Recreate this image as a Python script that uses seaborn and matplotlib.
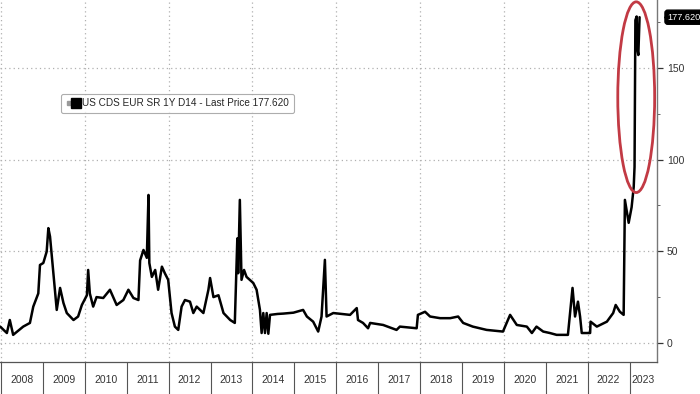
import numpy as np
import pandas as pd
import matplotlib
matplotlib.use("Agg")
import matplotlib.pyplot as plt
import seaborn as sns
from matplotlib.patches import Ellipse
from matplotlib.lines import Line2D
from matplotlib.legend_handler import HandlerTuple
import matplotlib.transforms as mtransforms

# ---- data (decimal year, CDS level) ----
years = [2007.98, 2008.14, 2008.21, 2008.29, 2008.53, 2008.69, 2008.77, 2008.89, 2008.93,
         2009.01, 2009.09, 2009.13, 2009.17, 2009.25, 2009.33, 2009.41, 2009.49, 2009.57,
         2009.73, 2009.84, 2009.93, 2010.05, 2010.08, 2010.12, 2010.20, 2010.28, 2010.44,
         2010.60, 2010.76, 2010.92, 2011.04, 2011.16, 2011.28, 2011.32, 2011.40, 2011.48,
         2011.52, 2011.54, 2011.60, 2011.68, 2011.75, 2011.84, 2011.91, 2011.99, 2012.07,
         2012.15, 2012.23, 2012.31, 2012.39, 2012.51, 2012.59, 2012.67, 2012.83, 2012.95,
         2012.99, 2013.07, 2013.19, 2013.31, 2013.47, 2013.58, 2013.64, 2013.66, 2013.70,
         2013.74, 2013.80, 2013.86, 2014.02, 2014.10, 2014.18, 2014.22, 2014.26, 2014.30,
         2014.34, 2014.38, 2014.42, 2014.60, 2014.74, 2014.98, 2015.21, 2015.30, 2015.45,
         2015.57, 2015.65, 2015.73, 2015.77, 2015.93, 2016.33, 2016.49, 2016.52, 2016.64,
         2016.76, 2016.81, 2017.12, 2017.44, 2017.52, 2017.92, 2017.95, 2018.12, 2018.24,
         2018.48, 2018.72, 2018.91, 2019.03, 2019.26, 2019.59, 2019.98, 2020.15, 2020.31,
         2020.55, 2020.67, 2020.78, 2020.94, 2021.10, 2021.26, 2021.53, 2021.58, 2021.64,
         2021.70, 2021.77, 2021.82, 2021.86, 2022.06, 2022.07, 2022.22, 2022.46, 2022.61,
         2022.67, 2022.77, 2022.86, 2022.89, 2022.94, 2022.98, 2023.05, 2023.10, 2023.12,
         2023.14, 2023.17, 2023.19, 2023.21, 2023.23, 2023.24]
values = [8.9, 5.4, 12.5, 4.4, 8.9, 10.9, 19.8, 27.0, 42.5,
          43.6, 49.8, 62.6, 58.0, 38.0, 18.0, 30.0, 21.8, 16.3,
          12.5, 14.4, 20.7, 26.0, 39.8, 27.0, 19.8, 25.0, 24.5,
          29.0, 20.7, 23.4, 29.0, 24.5, 23.4, 45.0, 50.7, 46.4,
          80.7, 43.6, 36.0, 39.8, 29.0, 41.6, 38.0, 34.4, 16.3,
          8.9, 7.1, 19.8, 23.4, 22.5, 16.3, 19.8, 16.3, 29.0,
          35.4, 25.0, 26.0, 16.3, 12.5, 10.9, 57.0, 38.0, 78.0,
          34.4, 39.8, 36.0, 32.7, 29.0, 18.0, 5.4, 16.3, 5.4,
          16.3, 5.0, 15.3, 15.8, 16.0, 16.5, 18.0, 14.4, 11.6,
          6.2, 14.4, 45.3, 14.4, 16.3, 15.3, 19.0, 12.5, 10.9,
          8.0, 10.9, 9.8, 7.1, 8.9, 8.0, 15.3, 17.0, 14.4,
          13.5, 13.5, 14.4, 10.9, 8.9, 7.1, 6.2, 15.3, 9.8,
          8.9, 5.4, 8.9, 6.2, 5.4, 4.4, 4.4, 16.3, 30.0,
          14.4, 22.5, 14.4, 5.4, 5.4, 11.6, 8.9, 11.6, 16.3,
          20.7, 17.0, 15.3, 78.0, 70.9, 65.5, 74.0, 85.0, 96.0,
          176.0, 178.0, 160.0, 157.0, 170.0, 177.62]
year_labels = [str(y) for y in range(2008, 2024)]
ytick_values = [0, 50, 100, 150]
series_name = "US CDS EUR SR 1Y D14 - Last Price 177.620"
last_price = 177.62

df = pd.DataFrame({"year": years, "value": values})

sns.set_style("white")
plt.rcParams["font.family"] = ["Liberation Sans", "DejaVu Sans"]

fig = plt.figure(figsize=(7, 3.94), dpi=100)
ax = fig.add_axes([0.0, 32 / 394, 657 / 700, 362 / 394])

sns.lineplot(data=df, x="year", y="value", ax=ax, color="black", linewidth=1.8)

x0, x1 = 2007.976, 2023.656
ax.set_xlim(x0, x1)
ax.set_ylim(-10.4, 187)

# grid
for gx in range(2008, 2023, 2):
    ax.axvline(gx, color="#b0b0b0", linestyle=(0, (1, 2.5)), linewidth=0.9, zorder=0)
for gy in ytick_values:
    ax.axhline(gy, color="#b0b0b0", linestyle=(0, (1, 2.5)), linewidth=0.9, zorder=0)

# x axis: year separators as major ticks, labels as minor ticks
ax.set_xticks(list(range(2008, 2024)))
ax.set_xticklabels([])
mids = [y + 0.5 for y in range(2008, 2023)] + [(2023 + x1) / 2]
ax.set_xticks(mids, minor=True)
ax.set_xticklabels(year_labels, minor=True, fontsize=7.5, color="#333333")
ax.tick_params(axis="x", which="major", direction="out", length=23, width=0.8, color="#555555", bottom=True)
ax.tick_params(axis="x", which="minor", length=0, pad=9.5)

# y axis right
ax.yaxis.tick_right()
ax.set_yticks(ytick_values)
ax.set_yticklabels([str(v) for v in ytick_values], fontsize=7.5, color="#333333")
ax.set_yticks([25, 75, 125, 175], minor=True)
ax.tick_params(axis="y", which="major", direction="out", length=4, width=0.9, color="#333333", right=True, left=False, pad=3)
ax.tick_params(axis="y", which="minor", direction="out", length=2, width=0.7, color="#666666", right=True, left=False)
ax.set_xlabel("")
ax.set_ylabel("")

for s in ["top", "left"]:
    ax.spines[s].set_visible(False)
ax.spines["right"].set_color("#777777")
ax.spines["right"].set_linewidth(1.0)
ax.spines["bottom"].set_color("#555555")
ax.spines["bottom"].set_linewidth(0.9)

# red ellipse
ell = Ellipse((2023.16, 134.0), width=0.88, height=104, fill=False,
              edgecolor="#c23a44", linewidth=2.0, zorder=5)
ax.add_patch(ell)

# last price tag
trans = mtransforms.blended_transform_factory(ax.transAxes, ax.transData)
ax.text(1.016, last_price, f"{last_price:.3f}", transform=trans, fontsize=6.6,
        color="white", va="center", ha="left", clip_on=False,
        bbox=dict(boxstyle="round,pad=0.28,rounding_size=0.3", fc="black", ec="black"))
ax.plot([1.0, 1.016], [last_price, last_price], transform=trans, color="black",
        linewidth=0, marker="<", markersize=6, clip_on=False, markevery=[1])

# legend
h_grey = Line2D([], [], marker="s", color="none", markerfacecolor="#999999",
                markeredgecolor="#999999", markersize=3.5)
h_black = Line2D([], [], marker="s", color="none", markerfacecolor="black",
                 markeredgecolor="black", markersize=7)
leg = ax.legend([(h_grey, h_black)], [series_name],
                handler_map={tuple: HandlerTuple(ndivide=None, pad=0.1)},
                loc="upper left", bbox_to_anchor=(0.085, 0.755), fontsize=7.2,
                frameon=True, fancybox=True, handlelength=1.4, handletextpad=0.3,
                borderpad=0.45, edgecolor="#999999")
leg.get_frame().set_linewidth(0.8)

fig.savefig("out.png", dpi=100)
